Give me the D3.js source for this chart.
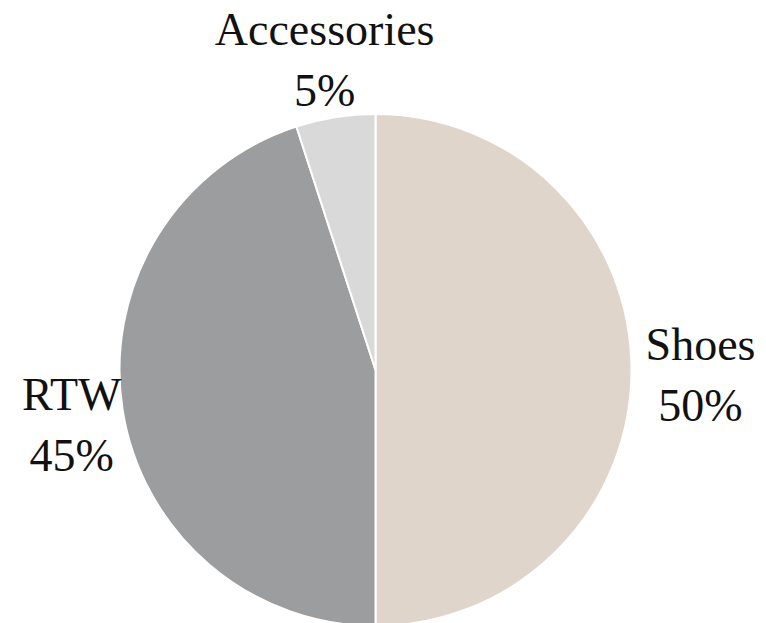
<!DOCTYPE html>
<html>
<head>
<meta charset="utf-8">
<script src="https://cdn.jsdelivr.net/npm/d3@7"></script>
<style>
  html, body { margin: 0; padding: 0; background: #ffffff; }
  svg { display: block; }
</style>
</head>
<body>
<svg id="chart" width="766" height="623"></svg>
<script>
const categories = ["Shoes", "RTW", "Accessories"];
const values = [50, 45, 5];
const labels = ["50%", "45%", "5%"];
const colors = ["#e0d5ca", "#9c9d9f", "#d9d9d9"];

const W = 766, H = 623;
const cx = 375.5, cy = 370, radius = 256, labelRadiusX = 325, labelRadiusY = 319;

const svg = d3.select("#chart");
const g = svg.append("g").attr("transform", `translate(${cx},${cy})`);

const data = categories.map((c, i) => ({ name: c, value: values[i], label: labels[i], color: colors[i] }));
const pie = d3.pie().value(d => d.value).sort(null);
const arc = d3.arc().innerRadius(0).outerRadius(radius);
const unitArc = d3.arc().innerRadius(1).outerRadius(1);

const arcs = pie(data);

g.selectAll("path.slice")
  .data(arcs)
  .enter().append("path")
  .attr("class", "slice")
  .attr("d", arc)
  .attr("fill", d => d.data.color)
  .attr("stroke", "#ffffff")
  .attr("stroke-width", 2);

const fontFamily = "'Liberation Serif', 'DejaVu Serif', serif";
const fontSize = 46;

const lg = g.selectAll("g.label")
  .data(arcs)
  .enter().append("g")
  .attr("class", "label");

lg.each(function(d) {
  const [ux, uy] = unitArc.centroid(d);
  const x = ux * labelRadiusX, y = uy * labelRadiusY;
  const sel = d3.select(this);
  const t1 = sel.append("text")
    .attr("text-anchor", "middle")
    .attr("font-family", fontFamily)
    .attr("font-size", fontSize)
    .attr("fill", "#111111")
    .text(d.data.name);
  const t2 = sel.append("text")
    .attr("text-anchor", "middle")
    .attr("font-family", fontFamily)
    .attr("font-size", fontSize)
    .attr("fill", "#111111")
    .text(d.data.label);
  const w = Math.max(t1.node().getComputedTextLength(), t2.node().getComputedTextLength());
  // keep labels inside the view with a margin
  let ax = cx + x;
  const margin = 22;
  if (ax - w / 2 < margin) ax = margin + w / 2;
  if (ax + w / 2 > W - 6) ax = W - 6 - w / 2;
  const lx = ax - cx;
  t1.attr("x", lx).attr("y", y - 10);
  t2.attr("x", lx).attr("y", y + 51);
});
</script>
</body>
</html>
